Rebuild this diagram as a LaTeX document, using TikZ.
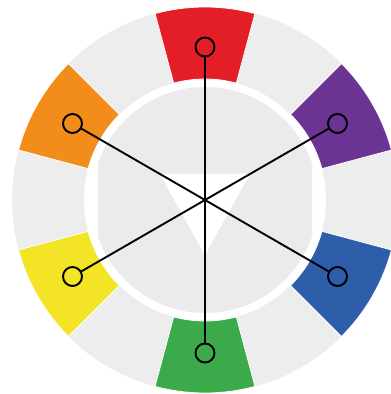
\documentclass[tikz,border=0pt]{standalone}
\usetikzlibrary{calc}
\definecolor{ringgrey}{HTML}{EDEDED}
\definecolor{hexgrey}{HTML}{EBEBEB}
\definecolor{cred}{HTML}{E31E26}
\definecolor{corange}{HTML}{F28C1A}
\definecolor{cpurple}{HTML}{6B3393}
\definecolor{cblue}{HTML}{2E5DAA}
\definecolor{cgreen}{HTML}{3AAA4B}
\definecolor{cyellow}{HTML}{F3E526}
\tikzset{
  dot/.style={circle, draw=black, line width=1.9pt, minimum size=19pt, inner sep=0pt},
  spoke/.style={draw=black, line width=1.9pt},
  seg/.style={draw=white, line width=0.8pt}
}
\newcommand{\wheelseg}[2]{%
  \fill[#2, seg] ({#1-15}:121) arc[start angle={#1-15}, end angle={#1+15}, radius=121]
    -- ({#1+15}:193) arc[start angle={#1+15}, end angle={#1-15}, radius=193] -- cycle;}
\begin{document}
\begin{tikzpicture}[x=1pt,y=1pt]
\useasboundingbox (0,0) rectangle (391,394);
\fill[white] (0,0) rectangle (391,394);
\begin{scope}[shift={(205,194)}]
  % grey ring
  \fill[ringgrey, even odd rule] (0,0) circle[radius=193] (0,0) circle[radius=121];
  % inner disc with flat left and right sides
  \begin{scope}
    \clip (-107,-130) rectangle (107,130);
    \fill[hexgrey] (0,0) circle[radius=113];
  \end{scope}
  % white centre triangle
  \fill[white] (150:52) -- (30:52) -- (270:55) -- cycle;
  % colour segments
  \wheelseg{90}{cred}
  \wheelseg{30}{cpurple}
  \wheelseg{-30}{cblue}
  \wheelseg{-90}{cgreen}
  \wheelseg{210}{cyellow}
  \wheelseg{150}{corange}
  % markers
  \node[dot] (r) at (90:153) {};
  \node[dot] (p) at (30:153) {};
  \node[dot] (b) at (-30:153) {};
  \node[dot] (g) at (-90:153) {};
  \node[dot] (y) at (210:153) {};
  \node[dot] (o) at (150:153) {};
  \draw[spoke] (r) -- (g);
  \draw[spoke] (o) -- (b);
  \draw[spoke] (p) -- (y);
\end{scope}
\end{tikzpicture}
\end{document}
